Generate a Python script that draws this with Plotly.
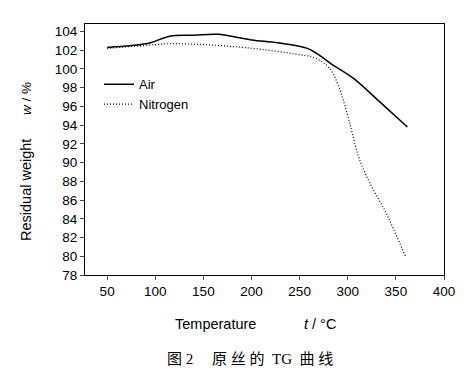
import plotly.graph_objects as go

air_t = [50, 75, 95, 115, 140, 165, 200, 227, 258, 270, 282, 306, 331, 362]
air_w = [102.3, 102.5, 102.8, 103.5, 103.6, 103.7, 103.1, 102.8, 102.2, 101.5, 100.6, 99.0, 96.7, 93.8]

n2_t = [50, 75, 100, 115, 150, 180, 210, 245, 265, 280, 290, 300, 305, 312, 324, 338, 348, 360]
n2_w = [102.2, 102.4, 102.6, 102.7, 102.6, 102.4, 102.1, 101.6, 101.2, 100.2, 98.3, 95.0, 93.0, 90.4, 87.6, 85.0, 82.8, 80.0]

x_ticks = [50, 100, 150, 200, 250, 300, 350, 400]
y_ticks = list(range(78, 105, 2))

FONT = "Liberation Sans, Arial, sans-serif"

# page has an 8px body margin; the figure is sized so it fits the window
OFF = 8
W, H = 471 - OFF, 383 - OFF
l, r, t, b = 77, 27, 16, 108

fig = go.Figure()
fig.add_trace(go.Scatter(x=air_t, y=air_w, mode="lines", name="Air",
                         line=dict(color="black", width=1.5, shape="spline")))
fig.add_trace(go.Scatter(x=n2_t, y=n2_w, mode="lines", name="Nitrogen",
                         line=dict(color="black", width=1.2, dash="1px,2px", shape="spline")))

fig.update_layout(
    width=W, height=H,
    margin=dict(l=l, r=r, t=t, b=b),
    paper_bgcolor="white", plot_bgcolor="white",
    font=dict(family=FONT, size=13, color="black"),
    showlegend=True,
    legend=dict(x=0.039, y=0.82, xanchor="left", yanchor="top",
                bgcolor="rgba(0,0,0,0)", font=dict(size=13, family=FONT),
                itemwidth=30, tracegroupgap=0),
)
fig.update_xaxes(range=[27, 400], tickvals=x_ticks, ticks="outside", ticklen=4,
                 showline=True, linecolor="black", linewidth=1, mirror=True,
                 showgrid=False, zeroline=False, tickfont=dict(size=13.5))
fig.update_yaxes(range=[78, 104.8], tickvals=y_ticks, ticks="outside", ticklen=4,
                 showline=True, linecolor="black", linewidth=1, mirror=True,
                 showgrid=False, zeroline=False, tickfont=dict(size=13.5))

# annotations placed by page pixel position, converted to paper coords
texts = [
    ("Temperature", 215, 324, 0, 14.5, FONT),
    ("<i>t</i> / °C", 320, 324, 0, 14.5, FONT),
    ("Residual weight", 26, 190, -90, 14.5, FONT),
    ("<i>w</i> / %", 27, 99, -90, 13.5, FONT),
    ("图 2　 原 丝 的  TG  曲 线", 250, 359, 0, 15, "Liberation Serif, Noto Sans CJK SC"),
]
pw, ph = W - l - r, H - t - b
for txt, px, py, ang, sz, fam in texts:
    fx, fy = px - OFF, py - OFF
    fig.add_annotation(text=txt, xref="paper", yref="paper",
                       x=(fx - l) / pw, y=(H - b - fy) / ph,
                       xanchor="center", yanchor="middle", textangle=ang,
                       showarrow=False, font=dict(size=sz, family=fam))

fig.write_html("out.html")
